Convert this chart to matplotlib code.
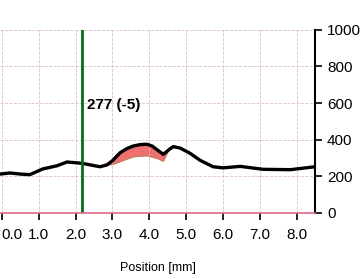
import matplotlib.pyplot as plt
import numpy as np

plt.rcParams['font.family'] = ['Liberation Sans', 'DejaVu Sans']

# profil (position en mm, valeur)
position = [-0.05, 0.22, 0.5, 0.76, 1.11, 1.49, 1.77, 2.17, 2.66, 2.85, 3.0, 3.21,
            3.4, 3.56, 3.75, 3.94, 4.08, 4.21, 4.38, 4.55, 4.65, 4.84, 5.11, 5.38,
            5.73, 6.0, 6.47, 7.09, 7.83, 8.45]
profile = [212, 218, 212, 209, 240, 257, 278, 271, 252, 262, 285, 329,
           352, 365, 373, 375, 365, 345, 320, 348, 362, 354, 325, 287,
           252, 246, 254, 238, 236, 251]

# zone rouge (courbe basse)
fill_pos = [2.85, 3.0, 3.21, 3.56, 3.94, 4.21, 4.38, 4.5]
fill_low = [262, 264, 280, 306, 312, 297, 282, 330]

cursor_x = 2.17
cursor_label = "277 (-5)"

x_ticks = [0, 1, 2, 3, 4, 5, 6, 7, 8]
y_ticks = [0, 200, 400, 600, 800, 1000]

fig = plt.figure(figsize=(3.61, 2.79), dpi=100)
ax = fig.add_axes([0.0, 0.237, 0.873, 0.656])

# remplissage entre la courbe noire et la courbe basse
upper = np.interp(fill_pos, position, profile)
ax.fill_between(fill_pos, fill_low, upper, color='#f07070', lw=0)
ax.plot(fill_pos, fill_low, color='#c08060', lw=0.8)

ax.plot(position, profile, color='black', lw=2.4, solid_joinstyle='round')
ax.axvline(cursor_x, color='#0a6a1a', lw=2)
ax.text(cursor_x + 0.15, 590, cursor_label, fontsize=11, fontweight='bold',
        va='center', ha='left')

ax.set_xlim(-0.05, 8.5)
ax.set_ylim(0, 1000)
ax.set_xticks(x_ticks)
ax.set_xticklabels([f'{t:.1f}' for t in x_ticks])
ax.get_xticklabels()[0].set_horizontalalignment('left')
ax.set_yticks(y_ticks)
ax.yaxis.tick_right()
ax.tick_params(axis='both', labelsize=11, length=5, width=1.2, color='black')
ax.tick_params(axis='x', pad=6)

ax.grid(True, color='#dcc0ca', ls='--', lw=0.6)
for s in ['top', 'left']:
    ax.spines[s].set_visible(False)
ax.spines['bottom'].set_color('#e06a85')
ax.spines['bottom'].set_linewidth(1.2)
ax.spines['right'].set_linewidth(1.5)

ax.set_xlabel('Position [mm]', fontsize=9, labelpad=14)

plt.savefig('out.png')
